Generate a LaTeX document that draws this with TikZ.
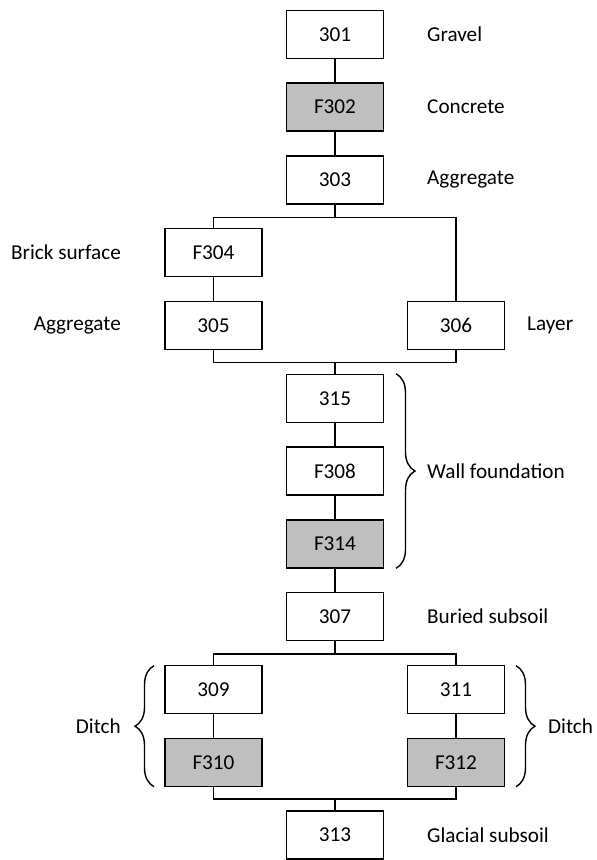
\documentclass[tikz,border=0pt]{standalone}
\usepackage{fontspec}
\setmainfont{Carlito}
\usetikzlibrary{decorations.pathreplacing}
\definecolor{boxgray}{HTML}{BFBFBF}
\begin{document}
\begin{tikzpicture}[x=1pt,y=-1pt,
  font=\fontsize{21.2}{25}\selectfont,
  unit/.style={draw=black,line width=1.4pt,minimum width=97pt,minimum height=48pt,inner sep=0pt,fill=white},
  feat/.style={unit,fill=boxgray},
  lab/.style={inner sep=0pt},
  conn/.style={line width=1.4pt},
  brc/.style={line width=1.4pt,decorate,decoration={brace,amplitude=19pt}}]
\useasboundingbox (0,0) rectangle (597,860);
% nodes
\node[unit] (n301) at (335,34.3) {301};
\node[feat] (n302) at (335,107.1) {F302};
\node[unit] (n303) at (335,179.9) {303};
\node[unit] (n304) at (213.5,252.7) {F304};
\node[unit] (n305) at (213.5,325.5) {305};
\node[unit] (n306) at (456,325.5) {306};
\node[unit] (n315) at (335,398.3) {315};
\node[unit] (n308) at (335,471.1) {F308};
\node[feat] (n314) at (335,543.9) {F314};
\node[unit] (n307) at (335,616.7) {307};
\node[unit] (n309) at (213.5,689.5) {309};
\node[unit] (n311) at (456,689.5) {311};
\node[feat] (n310) at (213.5,762.3) {F310};
\node[feat] (n312) at (456,762.3) {F312};
\node[unit] (n313) at (335,835.1) {313};
% junction coordinates
\coordinate (j1) at (335,217.3);
\coordinate (j2) at (335,362.7);
\coordinate (j3) at (335,654);
\coordinate (j4) at (335,799);
% connectors
\draw[conn] (n301) -- (n302);
\draw[conn] (n302) -- (n303);
\draw[conn] (n303) -- (j1);
\draw[conn] (n304.north) |- (j1) -| (n306.north);
\draw[conn] (n304) -- (n305);
\draw[conn] (n305.south) |- (j2) -| (n306.south);
\draw[conn] (j2) -- (n315);
\draw[conn] (n315) -- (n308);
\draw[conn] (n308) -- (n314);
\draw[conn] (n314) -- (n307);
\draw[conn] (n307) -- (j3);
\draw[conn] (n309.north) |- (j3) -| (n311.north);
\draw[conn] (n309) -- (n310);
\draw[conn] (n311) -- (n312);
\draw[conn] (n310.south) |- (j4) -| (n312.south);
\draw[conn] (j4) -- (n313);
% labels
\node[lab,anchor=west] (l301) at (427,34.3) {Gravel};
\node[lab,anchor=west] (l302) at (427,107.1) {Concrete};
\node[lab,anchor=west] (l303) at (427,179.9) {Aggregate};
\node[lab,anchor=east] (l304) at (121,252.7) {Brick surface};
\node[lab,anchor=east] (l305) at (121,325.5) {Aggregate};
\node[lab,anchor=west] (l306) at (527,325.5) {Layer};
\node[lab,anchor=west] (l307) at (427,616.7) {Buried subsoil};
\node[lab,anchor=west] (l313) at (427,835.1) {Glacial subsoil};
% braces
\coordinate (b1t) at (396,373.7);
\coordinate (b1b) at (396,568.3);
\draw[brc] (b1t) -- (b1b);
\node[lab,anchor=west] (lwall) at (427,471) {Wall foundation};
\coordinate (b2t) at (154,665.7);
\coordinate (b2b) at (154,786.7);
\draw[brc] (b2b) -- (b2t);
\node[lab,anchor=east] (ld1) at (121,726.2) {Ditch};
\coordinate (b3t) at (516,665.7);
\coordinate (b3b) at (516,786.7);
\draw[brc] (b3t) -- (b3b);
\node[lab,anchor=west] (ld2) at (548,726.2) {Ditch};
\end{tikzpicture}
\end{document}
